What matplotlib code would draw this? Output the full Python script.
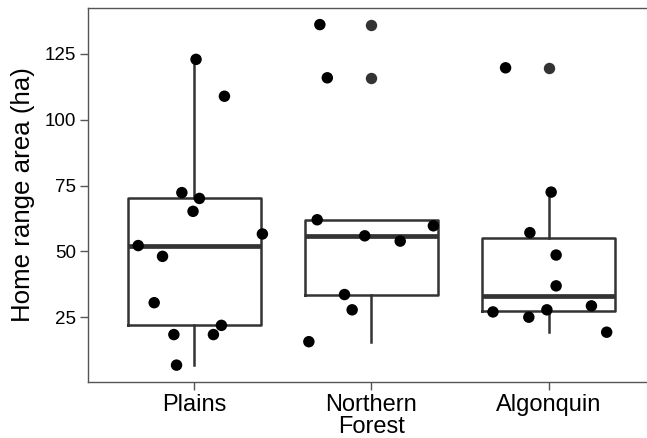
import matplotlib
matplotlib.use("Agg")
import matplotlib.pyplot as plt
import numpy as np

plt.rcParams["font.family"] = ["Liberation Sans", "DejaVu Sans"]

# Home range areas (ha) per study region
regions = ["Plains", "Northern\nForest", "Algonquin"]
plains = [122.9, 108.9, 72.3, 70.1, 65.2, 52.2, 56.6, 48.1, 30.5, 18.4, 18.4, 21.9, 6.8]
northern_forest = [136.1, 115.9, 62.0, 55.9, 53.9, 59.7, 33.6, 27.8, 15.7]
algonquin = [119.7, 72.5, 57.1, 48.6, 36.9, 27.0, 25.0, 27.8, 29.3, 19.3]

# horizontal jitter of each animal's point (category units)
plains_jitter = [0.011, 0.171, -0.069, 0.030, -0.006, -0.315, 0.385, -0.178, -0.225, -0.114, 0.109, 0.154, -0.099]
northern_jitter = [-0.291, -0.249, -0.306, -0.038, 0.162, 0.349, -0.152, -0.109, -0.353]
algonquin_jitter = [-0.244, 0.013, -0.107, 0.041, 0.041, -0.315, -0.113, -0.011, 0.240, 0.326]

groups = [plains, northern_forest, algonquin]
jitters = [plains_jitter, northern_jitter, algonquin_jitter]

box_col = "#333333"

fig = plt.figure(figsize=(6.47, 4.38), dpi=100)
ax = fig.add_axes([0.1355, 0.1285, 0.8773, 0.8532])

ax.boxplot(groups, positions=[1, 2, 3], widths=0.75, whis=1.5,
           patch_artist=False, showcaps=False,
           boxprops=dict(color=box_col, linewidth=1.8),
           whiskerprops=dict(color=box_col, linewidth=1.8),
           medianprops=dict(color=box_col, linewidth=3.4, solid_capstyle="butt"),
           flierprops=dict(marker="o", markerfacecolor=box_col, markeredgecolor="none",
                           markersize=8.2))

for i, (vals, jit) in enumerate(zip(groups, jitters)):
    xs = np.array(jit) + i + 1
    ax.scatter(xs, vals, s=68, color="black", edgecolors="none", zorder=5)

ax.set_xlim(0.4, 3.6)
ax.set_ylim(0.5, 142.4)
ax.set_yticks([25, 50, 75, 100, 125])
ax.set_xticks([1, 2, 3])
ax.set_xticklabels(regions, fontsize=17, linespacing=1.05)
ax.tick_params(axis="y", labelsize=13.5, pad=3)
ax.tick_params(axis="both", length=5.5, width=1.0, color="#555555", labelcolor="black")
ax.tick_params(axis="x", pad=3)
ax.set_ylabel("Home range area (ha)", fontsize=18.6, labelpad=7)

for sp in ax.spines.values():
    sp.set_color("#555555")
    sp.set_linewidth(1.0)

fig.savefig("out.png", dpi=100)
